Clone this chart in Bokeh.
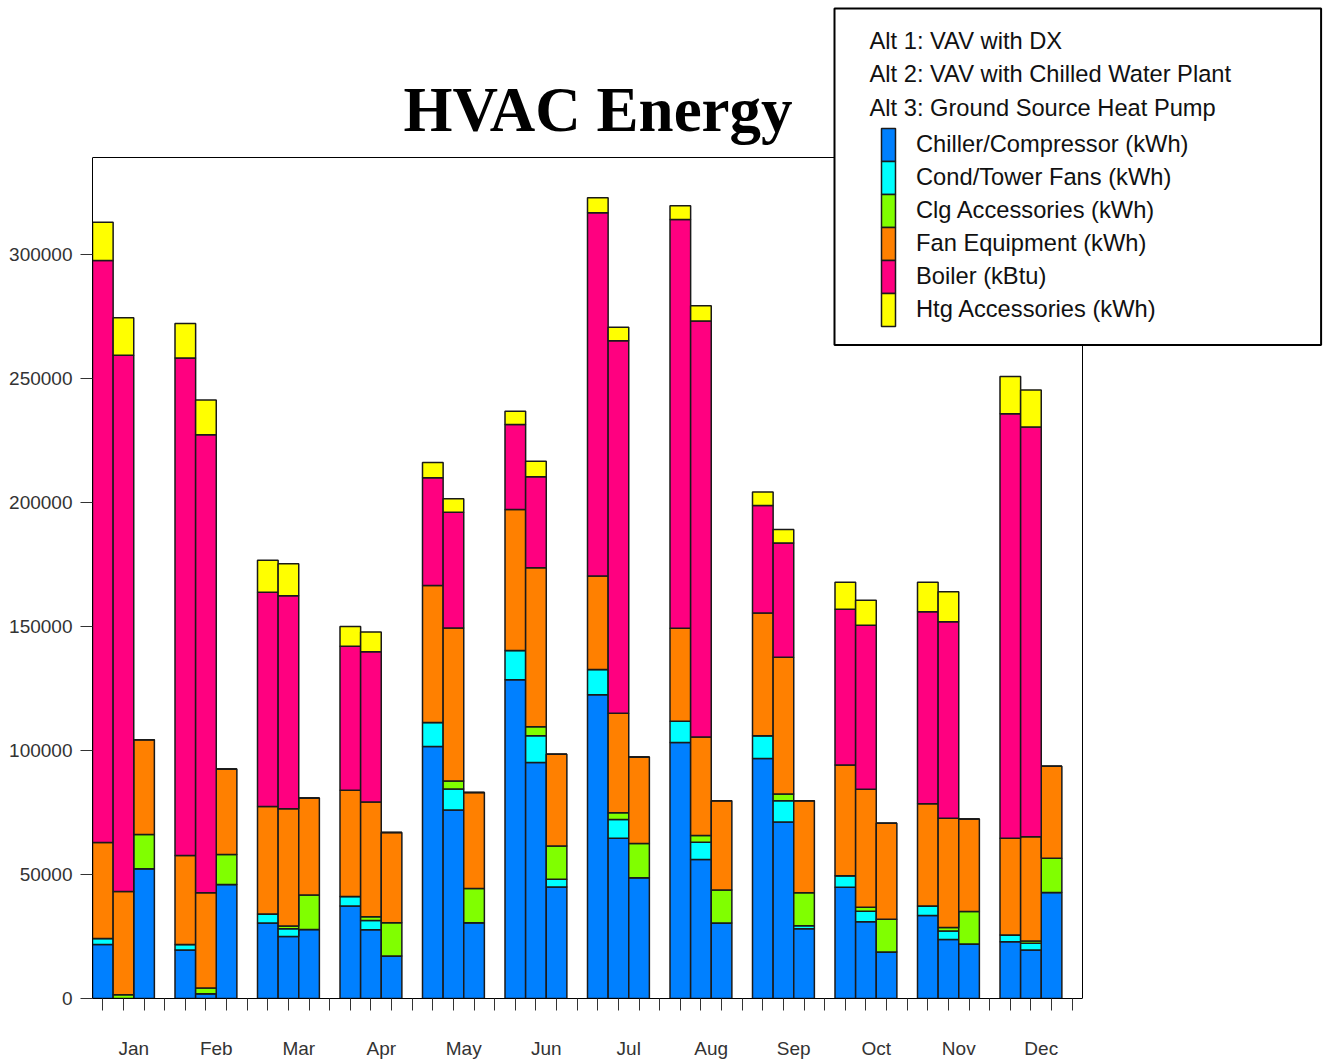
from bokeh.plotting import figure
from bokeh.models import (ColumnDataSource, Legend, LegendItem, Label, FixedTicker,
                          LinearAxis, BasicTickFormatter, Range1d, BoxAnnotation)
from bokeh.embed import file_html
from bokeh.resources import INLINE

months = ["Jan", "Feb", "Mar", "Apr", "May", "Jun", "Jul", "Aug", "Sep", "Oct", "Nov", "Dec"]
alternatives = ["Alt 1: VAV with DX",
                "Alt 2: VAV with Chilled Water Plant",
                "Alt 3: Ground Source Heat Pump"]
series_names = ["Chiller/Compressor (kWh)", "Cond/Tower Fans (kWh)", "Clg Accessories (kWh)",
                "Fan Equipment (kWh)", "Boiler (kBtu)", "Htg Accessories (kWh)"]
series_colors = ["#0080FF", "#00FFFF", "#80FF00", "#FF8000", "#FF0080", "#FFFF00"]

# values (kWh / kBtu), per alternative, Jan..Dec
chiller_alt1 = [21800, 19600, 30400, 37300, 101600, 128500, 122500, 103200, 96800, 44900, 33500, 22900]
chiller_alt2 = [0, 1900, 25000, 27700, 76000, 95200, 64600, 56000, 71200, 30900, 23800, 19600]
chiller_alt3 = [52300, 46000, 27800, 17100, 30500, 45000, 48700, 30400, 28100, 18700, 22000, 42700]

cond_alt1 = [2400, 2200, 3700, 3800, 9700, 11800, 10200, 8600, 9100, 4600, 3800, 2700]
cond_alt2 = [0, 0, 3100, 3800, 8500, 10700, 7600, 7000, 8500, 4300, 3400, 2700]
cond_alt3 = [0, 0, 0, 0, 0, 3100, 0, 0, 1200, 0, 0, 0]

clg_alt1 = [0, 0, 0, 0, 0, 0, 0, 0, 0, 0, 0, 0]
clg_alt2 = [1500, 2300, 1100, 1500, 3200, 3700, 2700, 2700, 2800, 1600, 1400, 900]
clg_alt3 = [13800, 12100, 13900, 13400, 13900, 13400, 13800, 13300, 13300, 13300, 13100, 13800]

fan_alt1 = [38700, 35900, 43300, 42900, 55200, 56900, 37700, 37500, 49500, 44700, 41200, 39000]
fan_alt2 = [41600, 38400, 47300, 46200, 61700, 64100, 40100, 39700, 55100, 47600, 44100, 42000]
fan_alt3 = [38200, 34400, 39100, 36400, 38700, 37000, 34900, 36000, 37100, 38700, 37300, 37100]

boiler_alt1 = [234700, 200600, 86400, 58000, 43500, 34200, 146400, 164800, 43400, 62800, 77400, 171200]
boiler_alt2 = [216300, 184700, 85900, 60600, 46700, 36700, 150200, 167800, 46100, 66100, 79200, 165200]
boiler_alt3 = [0, 0, 0, 0, 0, 0, 0, 0, 0, 0, 0, 0]

htg_alt1 = [15400, 13900, 12900, 8000, 6100, 5400, 6100, 5500, 5400, 10800, 11900, 15000]
htg_alt2 = [15100, 14000, 12900, 8000, 5400, 6200, 5500, 6100, 5400, 10100, 12100, 15000]
htg_alt3 = [0, 0, 0, 0, 0, 0, 0, 0, 0, 0, 0, 0]

y_ticks = [0, 50000, 100000, 150000, 200000, 250000, 300000]

keys = ["chiller", "cond", "clg", "fan", "boiler", "htg"]
by_series = {
    "chiller": [chiller_alt1, chiller_alt2, chiller_alt3],
    "cond": [cond_alt1, cond_alt2, cond_alt3],
    "clg": [clg_alt1, clg_alt2, clg_alt3],
    "fan": [fan_alt1, fan_alt2, fan_alt3],
    "boiler": [boiler_alt1, boiler_alt2, boiler_alt3],
    "htg": [htg_alt1, htg_alt2, htg_alt3],
}

SLOTS = 4  # 3 alternatives + 1 gap per month
xs = []
cols = {k: [] for k in keys}
for m in range(len(months)):
    for a in range(len(alternatives)):
        xs.append(SLOTS * m + a + 0.5)
        for k in keys:
            cols[k].append(by_series[k][a][m])
source = ColumnDataSource(dict(x=xs, **cols))

# ---- layout: the frame covers the chart box plus the legend area above/right of it
W, H = 1323, 1061
LEFT, BOTTOM = 92, 63
FRAME_W, FRAME_H = W - LEFT, H - BOTTOM          # 1231 x 998 px
X_MAX = SLOTS * len(months)                      # chart box right edge (data units)
Y_MAX = 339100                                   # chart box top edge (data units)
CHART_W_PX, CHART_H_PX = 990, 841                # chart box size on screen
x_end = X_MAX * FRAME_W / CHART_W_PX
y_end = Y_MAX * FRAME_H / CHART_H_PX

p = figure(width=W, height=H, output_backend="svg", toolbar_location=None, title=None,
           x_range=Range1d(0, x_end), y_range=Range1d(0, y_end),
           min_border_left=LEFT, min_border_right=0, min_border_top=0, min_border_bottom=BOTTOM)
p.background_fill_color = "white"
p.border_fill_color = "white"
p.outline_line_color = None
p.xgrid.visible = False
p.ygrid.visible = False

renderers = p.vbar_stack(keys, x="x", width=1.0, source=source, color=series_colors,
                         line_color="#1a1a1a", line_width=1.5)
for r, c in zip(renderers, series_colors):
    r.glyph.fill_color = c
    r.glyph.line_color = "#1a1a1a"

# chart box: top and right edges
p.segment(x0=[0, X_MAX], y0=[Y_MAX, 0], x1=[X_MAX, X_MAX], y1=[Y_MAX, Y_MAX],
          line_color="black", line_width=1)

# y axis
p.yaxis.bounds = (0, Y_MAX)
p.yaxis.ticker = FixedTicker(ticks=y_ticks)
p.yaxis.formatter = BasicTickFormatter(use_scientific=False)
p.yaxis.major_tick_out = 12
p.yaxis.major_tick_in = 0
p.yaxis.minor_tick_out = 0
p.yaxis.minor_tick_in = 0
p.yaxis.major_label_standoff = 8
p.yaxis.major_label_text_font = "Liberation Sans"
p.yaxis.major_label_text_font_size = "19px"
p.yaxis.major_label_text_color = "#333333"
p.yaxis.axis_line_color = "black"
p.yaxis.major_tick_line_color = "#333333"

# x axis: ticks at each slot, no labels
p.xaxis.bounds = (0, X_MAX)
p.xaxis.ticker = FixedTicker(ticks=[i + 0.5 for i in range(X_MAX)])
p.xaxis.major_tick_out = 12
p.xaxis.major_tick_in = 0
p.xaxis.minor_tick_out = 0
p.xaxis.minor_tick_in = 0
p.xaxis.major_label_text_font_size = "1px"
p.xaxis.major_label_text_alpha = 0
p.xaxis.major_label_standoff = 0
p.xaxis.axis_line_color = "black"
p.xaxis.major_tick_line_color = "#333333"

# month labels axis
month_pos = [SLOTS * m + 2 for m in range(len(months))]
month_axis = LinearAxis(ticker=FixedTicker(ticks=month_pos),
                        major_label_overrides={pos: name for pos, name in zip(month_pos, months)},
                        major_tick_out=0, major_tick_in=0, minor_tick_out=0, minor_tick_in=0,
                        axis_line_alpha=0, major_label_standoff=27,
                        major_label_text_font="Liberation Sans",
                        major_label_text_font_size="19px",
                        major_label_text_color="#333333")
p.add_layout(month_axis, "below")

# title
p.add_layout(Label(x=505.5, y=FRAME_H - 109, x_units="screen", y_units="screen",
                   text="HVAC Energy", text_align="center", text_baseline="alphabetic",
                   text_font="Liberation Serif", text_font_style="bold",
                   text_font_size="63px", text_color="black"))

# legend box with alternative descriptions
LEG_FONT = "23.7px"
box = Label(x=742, y=FRAME_H - 8, x_units="screen", y_units="screen",
            text="\n".join(alternatives),
            text_font="Liberation Sans", text_font_size=LEG_FONT, text_color="#111111",
            text_align="left", text_baseline="top", text_line_height=1.30,
            background_fill_color="white", border_line_color="black", border_line_width=2,
            padding=dict(left=35, right=90, top=19, bottom=224))
p.add_layout(box)

# contiguous colour strip (legend swatches)
LX, LY = 789, 672          # legend bottom-left, px from frame's bottom-left
ITEM_H, GLYPH_W = 33, 14
legend_top = LY + ITEM_H * len(series_names)
for i, c in enumerate(series_colors):
    p.add_layout(BoxAnnotation(left=LX, right=LX + GLYPH_W,
                               top=legend_top - ITEM_H * i, bottom=legend_top - ITEM_H * (i + 1),
                               left_units="screen", right_units="screen",
                               top_units="screen", bottom_units="screen",
                               fill_color=c, fill_alpha=1.0,
                               line_color="#1a1a1a", line_alpha=1.0, line_width=1.5))

# legend labels; glyphs are transparent stand-ins so the strip above shows through
empty = ColumnDataSource(dict(x=[], top=[]))
stand_ins = [p.vbar(x="x", top="top", width=1.0, source=empty, fill_color=c,
                    fill_alpha=0, line_alpha=0) for c in series_colors]
legend = Legend(items=[LegendItem(label=n, renderers=[r]) for n, r in zip(series_names, stand_ins)],
                location=(LX, LY), orientation="vertical",
                padding=0, margin=0, spacing=0,
                glyph_width=GLYPH_W, glyph_height=ITEM_H, label_height=ITEM_H, label_standoff=21,
                label_text_font="Liberation Sans", label_text_font_size=LEG_FONT,
                label_text_color="#111111", label_text_baseline="middle",
                border_line_alpha=0, background_fill_alpha=0)
p.add_layout(legend)

open("out.html", "w").write(file_html(p, INLINE))
